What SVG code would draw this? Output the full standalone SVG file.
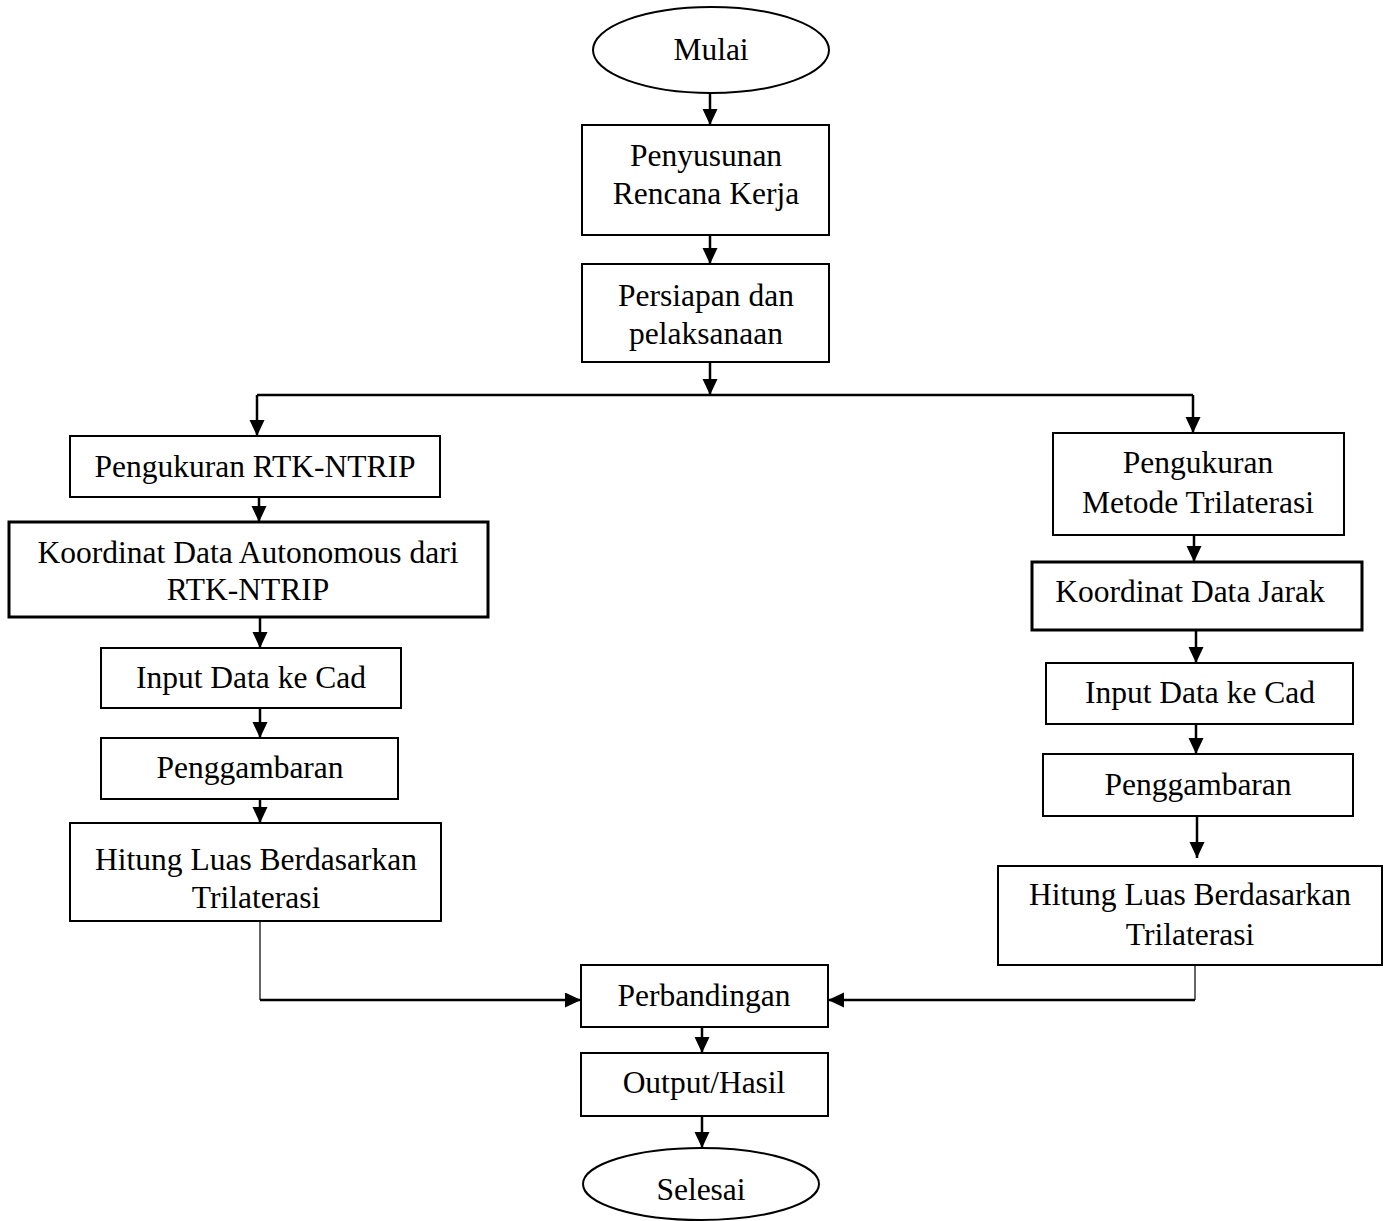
<svg xmlns="http://www.w3.org/2000/svg" width="1390" height="1221" viewBox="0 0 1390 1221">
<style>
.b{fill:#fff;stroke:#000;stroke-width:2}
.bt{fill:#fff;stroke:#000;stroke-width:3}
.t{font-family:"Liberation Serif","Times New Roman",serif;font-size:31.5px;fill:#000;text-anchor:middle}
.c{fill:none;stroke:#000;stroke-width:2.5}
.thin{fill:none;stroke:#000;stroke-width:1.2}
</style>
<defs>
<marker id="ah" markerUnits="userSpaceOnUse" markerWidth="16" markerHeight="16" refX="16" refY="7.5" orient="auto">
<path d="M0,0 L16,7.5 L0,15 Z" fill="#000"/>
</marker>
</defs>
<rect width="1390" height="1221" fill="#fff"/>
<g id="connectors">
<path class="c" d="M710,93 V125" marker-end="url(#ah)"/>
<path class="c" d="M710,235 V264" marker-end="url(#ah)"/>
<path class="c" d="M710,362 V395" marker-end="url(#ah)"/>
<path class="c" d="M257,395 H1193"/>
<path class="c" d="M257,395 V436" marker-end="url(#ah)"/>
<path class="c" d="M1193,395 V433" marker-end="url(#ah)"/>
<path class="c" d="M259,497 V522" marker-end="url(#ah)"/>
<path class="c" d="M260,617 V648" marker-end="url(#ah)"/>
<path class="c" d="M260,708 V738" marker-end="url(#ah)"/>
<path class="c" d="M260,799 V823" marker-end="url(#ah)"/>
<path class="thin" d="M260,921 V1000"/>
<path class="c" d="M260,1000 H581" marker-end="url(#ah)"/>
<path class="c" d="M1194,535 V562" marker-end="url(#ah)"/>
<path class="c" d="M1196,630 V663" marker-end="url(#ah)"/>
<path class="c" d="M1196,724 V754" marker-end="url(#ah)"/>
<path class="c" d="M1197,816 V858" marker-end="url(#ah)"/>
<path class="thin" d="M1195,965 V1000"/>
<path class="c" d="M1195,1000 H828" marker-end="url(#ah)"/>
<path class="c" d="M702,1027 V1053" marker-end="url(#ah)"/>
<path class="c" d="M702,1116 V1148" marker-end="url(#ah)"/>
</g>
<g id="mulai"><ellipse class="b" cx="711" cy="50" rx="118" ry="43"/><text class="t" x="711" y="60">Mulai</text></g>
<g id="penyusunan"><rect class="b" x="582" y="125" width="247" height="110"/><text class="t" x="706" y="166">Penyusunan</text><text class="t" x="706" y="204">Rencana Kerja</text></g>
<g id="persiapan"><rect class="b" x="582" y="264" width="247" height="98"/><text class="t" x="706" y="306">Persiapan dan</text><text class="t" x="706" y="344">pelaksanaan</text></g>
<g id="rtk"><rect class="b" x="70" y="436" width="370" height="61"/><text class="t" x="255" y="477">Pengukuran RTK-NTRIP</text></g>
<g id="koordinat-auto"><rect class="bt" x="9" y="522" width="479" height="95"/><text class="t" x="248" y="563">Koordinat Data Autonomous dari</text><text class="t" x="248" y="600">RTK-NTRIP</text></g>
<g id="input-left"><rect class="b" x="101" y="648" width="300" height="60"/><text class="t" x="251" y="688">Input Data ke Cad</text></g>
<g id="gambar-left"><rect class="b" x="101" y="738" width="297" height="61"/><text class="t" x="250" y="778">Penggambaran</text></g>
<g id="hitung-left"><rect class="b" x="70" y="823" width="371" height="98"/><text class="t" x="256" y="870">Hitung Luas Berdasarkan</text><text class="t" x="256" y="908">Trilaterasi</text></g>
<g id="trilaterasi"><rect class="b" x="1053" y="433" width="291" height="102"/><text class="t" x="1198" y="473">Pengukuran</text><text class="t" x="1198" y="513">Metode Trilaterasi</text></g>
<g id="koordinat-jarak"><rect class="bt" x="1032" y="562" width="330" height="68"/><text class="t" x="1190" y="602">Koordinat Data Jarak</text></g>
<g id="input-right"><rect class="b" x="1046" y="663" width="307" height="61"/><text class="t" x="1200" y="703">Input Data ke Cad</text></g>
<g id="gambar-right"><rect class="b" x="1043" y="754" width="310" height="62"/><text class="t" x="1198" y="795">Penggambaran</text></g>
<g id="hitung-right"><rect class="b" x="998" y="866" width="384" height="99"/><text class="t" x="1190" y="905">Hitung Luas Berdasarkan</text><text class="t" x="1190" y="945">Trilaterasi</text></g>
<g id="perbandingan"><rect class="b" x="581" y="965" width="247" height="62"/><text class="t" x="704" y="1006">Perbandingan</text></g>
<g id="output"><rect class="b" x="581" y="1053" width="247" height="63"/><text class="t" x="704" y="1093">Output/Hasil</text></g>
<g id="selesai"><ellipse class="b" cx="701" cy="1184" rx="118" ry="36"/><text class="t" x="701" y="1200">Selesai</text></g>
</svg>
